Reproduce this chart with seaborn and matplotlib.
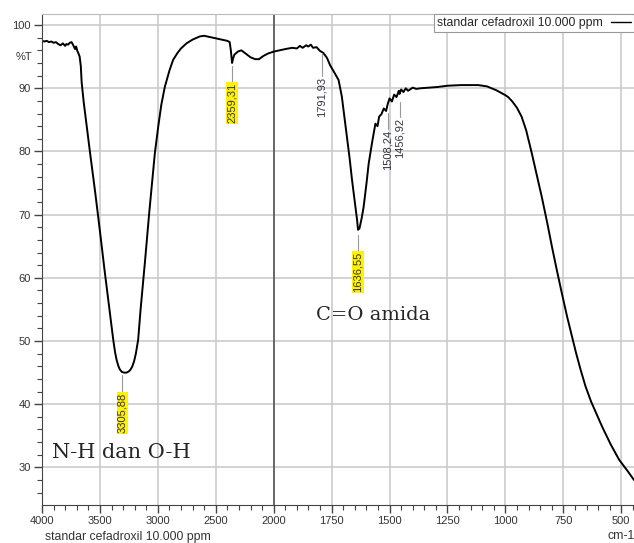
import numpy as np
import pandas as pd
import seaborn as sns
import matplotlib.pyplot as plt
from matplotlib.ticker import FixedLocator

# spectrum (cm-1, %T)
wavenumber = [4000, 3980, 3960, 3940, 3920, 3900, 3880, 3860, 3840, 3820, 3800, 3790, 3775,
              3760, 3745, 3730, 3715, 3705, 3695, 3685, 3675, 3665, 3658, 3640, 3620, 3586,
              3540, 3500, 3460, 3414, 3385, 3370, 3356, 3340, 3328, 3310, 3290, 3270, 3250,
              3235, 3220, 3205, 3190, 3170, 3149, 3110, 3075, 3026, 2997, 2970, 2940, 2900,
              2868, 2830, 2800, 2753, 2700, 2638, 2600, 2550, 2500, 2450, 2400, 2380, 2370,
              2362, 2359, 2352, 2340, 2310, 2279, 2250, 2200, 2160, 2127, 2090, 2049, 2000,
              1988, 1950, 1920, 1900, 1887, 1875, 1860, 1851, 1840, 1830, 1815, 1800, 1786,
              1770, 1756, 1740, 1720, 1706, 1695, 1684, 1672, 1662, 1650, 1640, 1636, 1630,
              1620, 1612, 1600, 1590, 1575, 1561, 1552, 1545, 1535, 1525, 1515, 1508, 1500,
              1490, 1480, 1470, 1460, 1457, 1450, 1440, 1430, 1420, 1400, 1385, 1365, 1330,
              1292, 1250, 1191, 1150, 1118, 1080, 1060, 1040, 1020, 1000, 988, 970, 950, 930,
              910, 886, 865, 843, 820, 799, 778, 756, 734, 712, 695, 675, 654, 630, 605, 582,
              545, 509, 470, 445]
transmittance = [97.5, 97.4, 97.5, 97.3, 97.4, 97.2, 97.3, 97.0, 96.8, 97.1, 96.7, 97.0, 96.9,
                 97.2, 97.3, 96.8, 96.2, 96.6, 95.9, 95.5, 95.0, 93.5, 91.0, 87.8, 84.9, 79.9,
                 73.4, 67.4, 61.2, 54.4, 50.2, 48.3, 47.0, 46.0, 45.5, 45.1, 45.0, 45.0, 45.2,
                 45.5, 46.0, 46.8, 48.0, 50.2, 55.0, 62.8, 70.2, 79.7, 83.9, 87.4, 90.2, 92.8,
                 94.5, 95.6, 96.3, 97.1, 97.7, 98.2, 98.3, 98.1, 97.9, 97.7, 97.5, 97.3, 96.0,
                 94.5, 94.0, 94.6, 95.3, 95.8, 96.0, 95.6, 94.9, 94.6, 94.6, 95.1, 95.5, 95.8,
                 95.9, 96.2, 96.4, 96.3, 96.7, 96.4, 96.8, 96.6, 96.9, 96.4, 96.5, 95.9, 95.6,
                 94.8, 93.6, 92.6, 91.3, 88.7, 85.5, 82.3, 78.8, 75.5, 72.0, 69.1, 67.6, 67.8,
                 69.5, 71.2, 74.8, 78.1, 81.5, 84.4, 84.0, 85.5, 85.9, 86.8, 86.4, 87.5, 88.4,
                 87.9, 89.0, 88.6, 89.6, 89.1, 89.8, 89.4, 90.0, 89.6, 90.1, 89.9, 90.0, 90.1,
                 90.2, 90.4, 90.5, 90.5, 90.5, 90.3, 90.0, 89.7, 89.3, 88.9, 88.6, 87.9, 86.9,
                 85.5, 83.3, 79.7, 76.3, 72.8, 68.8, 64.9, 61.2, 57.5, 53.9, 50.6, 48.1, 45.4,
                 42.8, 40.4, 38.3, 36.4, 33.6, 31.2, 29.3, 28.0]

peak_pos = [3305.88, 2359.31, 1791.93, 1636.55, 1508.24, 1456.92]
peak_text = ["3305,88", "2359,31", "1791,93", "1636,55", "1508,24", "1456,92"]
peak_from = [44.6, 93.6, 95.5, 66.8, 86.1, 87.8]
peak_top = [41.8, 90.8, 91.8, 64.1, 83.4, 85.3]
peak_yellow = [True, True, False, True, False, False]

x_major = [4000, 3500, 3000, 2500, 2000, 1750, 1500, 1250, 1000, 750, 500]


def forward(w):
    w = np.asarray(w, dtype=float)
    return np.where(w >= 2000, 1 + (w - 2000) / 2000, 1 + (w - 2000) / 1000)


def inverse(p):
    p = np.asarray(p, dtype=float)
    return np.where(p >= 1, 2000 + (p - 1) * 2000, 2000 + (p - 1) * 1000)


sns.set_style("ticks")
plt.rcParams['font.family'] = ['Liberation Sans', 'DejaVu Sans']

df = pd.DataFrame({"cm": wavenumber, "T": transmittance})

fig = plt.figure(figsize=(6.34, 5.43), dpi=100)
ax = fig.add_axes([42 / 634, 1 - 505 / 543, 592 / 634, 491 / 543])
ax.set_xscale('function', functions=(forward, inverse))

sns.lineplot(data=df, x="cm", y="T", color="black", lw=1.4, estimator=None,
             label="standar cefadroxil 10.000 ppm", ax=ax)

ax.set_xlim(4000, 445)
ax.set_ylim(24.05, 101.75)
ax.xaxis.set_major_locator(FixedLocator(x_major))
ax.xaxis.set_minor_locator(FixedLocator(list(range(3900, 2000, -100)) + list(range(1950, 449, -50))))
ax.set_xticklabels([str(v) for v in x_major])
ax.yaxis.set_major_locator(FixedLocator(range(30, 101, 10)))
ax.yaxis.set_minor_locator(FixedLocator(range(26, 101, 2)))

ax.grid(True, which='major', color='#c8c8c8', lw=1.1)
ax.axvline(2000, color='#555555', lw=1.2, zorder=1)
ax.tick_params(which='major', length=6, width=1, color='#444444', labelsize=8,
               labelcolor='#333333', pad=2)
ax.tick_params(which='minor', length=3.5, width=0.8, color='#444444')
for s in ['left', 'bottom']:
    ax.spines[s].set_color('#444444')
ax.spines['top'].set_color('#bbbbbb')
ax.spines['right'].set_visible(False)
ax.set_xlabel('')
ax.set_ylabel('')

ax.text(-0.017, 95, '%T', transform=ax.get_yaxis_transform(), ha='right', va='center',
        fontsize=8, color='#333333')

for pos, txt, y0, y1, yel in zip(peak_pos, peak_text, peak_from, peak_top, peak_yellow):
    ax.plot([pos, pos], [y0, y1 + 0.2], color='#999999', lw=0.8)
    box = dict(facecolor='#fff200', edgecolor='none', pad=0.6) if yel else None
    ax.text(pos, y1, txt, rotation=90, ha='center', va='top', fontsize=8,
            color='#333344', bbox=box)

ax.text(3914, 32.4, 'N-H dan O-H', family='DejaVu Serif', fontsize=15, ha='left', va='center')
ax.text(1817, 54.1, 'C=O amida', family='DejaVu Serif', fontsize=14, ha='left', va='center')

leg = ax.legend(loc='upper right', borderaxespad=0, fancybox=False, edgecolor='#999999',
                framealpha=1, fontsize=8.8, markerfirst=False, handlelength=1.6,
                borderpad=0.25, handletextpad=0.7)
leg.get_frame().set_linewidth(0.8)
for line in leg.get_lines():
    line.set_linewidth(1.0)

fig.text(45 / 634, 1 - 537 / 543, 'standar cefadroxil 10.000 ppm', fontsize=8.8,
         color='#333333', ha='left', va='center')
fig.text(608 / 634, 1 - 536 / 543, 'cm-1', fontsize=8.8, color='#333333', ha='left', va='center')

fig.savefig('out.png', dpi=100)
